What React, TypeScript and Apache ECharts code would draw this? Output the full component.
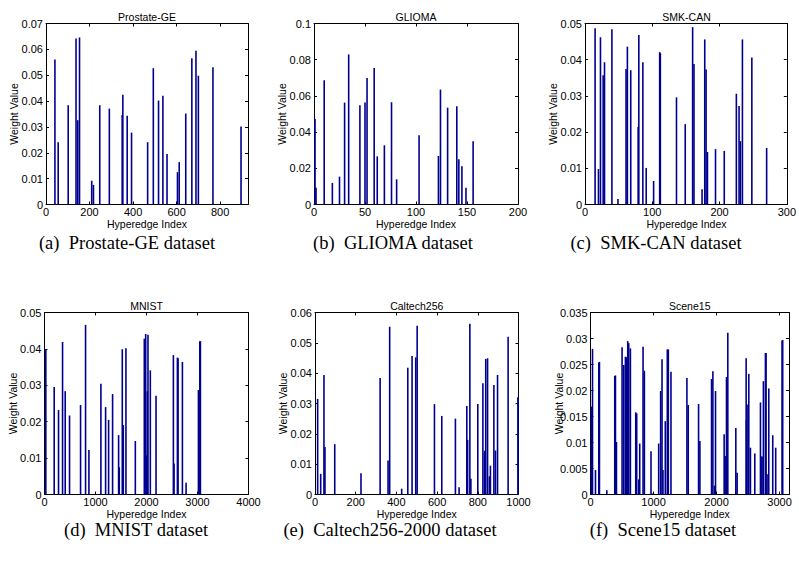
import React, { useEffect, useRef } from "react";
import * as echarts from "echarts";

// ---------- data (hyperedge index, weight value) ----------
const prostateIdx = [41, 56, 102, 138, 146, 154, 210, 218, 247, 291, 350, 353, 373, 393, 467, 493, 517, 537, 556, 604, 612, 642, 670, 689, 700, 767, 896];
const prostateW = [0.0561, 0.0241, 0.0384, 0.0642, 0.0326, 0.0646, 0.0092, 0.0076, 0.0384, 0.0371, 0.0346, 0.0424, 0.0343, 0.0278, 0.0241, 0.0527, 0.0402, 0.0421, 0.0195, 0.0125, 0.0164, 0.0352, 0.0566, 0.0595, 0.0498, 0.0531, 0.0302];

const gliomaIdx = [1, 2, 10, 18, 25, 30, 34, 45, 50, 52, 59, 62, 69, 76, 81, 103, 122, 124, 131, 140, 142, 145, 149, 156];
const gliomaW = [0.0472, 0.0092, 0.0686, 0.0119, 0.0154, 0.0563, 0.0829, 0.0549, 0.0563, 0.0699, 0.0754, 0.0266, 0.0327, 0.0565, 0.0139, 0.0382, 0.0268, 0.0635, 0.0535, 0.0543, 0.025, 0.0211, 0.0092, 0.035];

const smkIdx = [15, 20, 23, 27, 29, 40, 49, 61, 63, 68, 79, 80, 86, 91, 102, 111, 112, 136, 149, 160, 162, 174, 178, 180, 182, 194, 207, 225, 229, 231, 234, 248, 270];
const smkW = [0.0487, 0.0098, 0.0462, 0.0357, 0.0393, 0.0484, 0.0015, 0.0374, 0.0436, 0.0371, 0.0214, 0.0468, 0.0393, 0.0101, 0.0065, 0.0421, 0.0418, 0.0296, 0.0222, 0.049, 0.0388, 0.0042, 0.0456, 0.0373, 0.0145, 0.0153, 0.0148, 0.0306, 0.0272, 0.0175, 0.0456, 0.0406, 0.0156];

const mnistIdx = [26, 190, 275, 354, 406, 491, 707, 805, 871, 1106, 1198, 1257, 1335, 1453, 1466, 1525, 1545, 1597, 1781, 1957, 1984, 2003, 2016, 2029, 2075, 2187, 2527, 2540, 2606, 2619, 2704, 2776, 3018, 3045, 3057];
const mnistW = [0.04, 0.0295, 0.0232, 0.0419, 0.0284, 0.0217, 0.0246, 0.0466, 0.0122, 0.0304, 0.024, 0.0205, 0.0276, 0.0163, 0.0075, 0.0399, 0.0191, 0.0402, 0.0147, 0.0428, 0.0441, 0.0108, 0.0284, 0.0439, 0.0341, 0.0271, 0.0383, 0.0085, 0.0376, 0.0374, 0.0364, 0.0032, 0.0287, 0.0421, 0.0421];

const caltechIdx = [13, 28, 44, 49, 97, 226, 320, 359, 367, 426, 456, 477, 495, 502, 587, 623, 690, 708, 746, 750, 761, 766, 800, 825, 833, 839, 848, 857, 862, 879, 887, 897, 949, 997];
const caltechW = [0.0315, 0.0068, 0.0394, 0.0157, 0.0166, 0.007, 0.0384, 0.0112, 0.0553, 0.0019, 0.0418, 0.0457, 0.0452, 0.0556, 0.0298, 0.0259, 0.025, 0.0024, 0.0292, 0.018, 0.0563, 0.0052, 0.0298, 0.0367, 0.0144, 0.0447, 0.0449, 0.006, 0.0095, 0.0361, 0.0145, 0.0394, 0.052, 0.0321];

const sceneIdx = [16, 32, 79, 132, 142, 259, 385, 396, 412, 501, 528, 554, 570, 591, 607, 633, 718, 733, 765, 781, 834, 855, 960, 982, 1082, 1113, 1135, 1150, 1187, 1219, 1235, 1277, 1530, 1551, 1715, 1736, 1921, 1942, 1968, 1984, 2121, 2137, 2158, 2179, 2306, 2327, 2470, 2475, 2485, 2512, 2538, 2607, 2697, 2707, 2723, 2744, 2776, 2786, 2802, 2829, 2892, 2939, 3040, 3050];
const sceneW = [0.0169, 0.028, 0.0047, 0.0254, 0.0255, 0.0008, 0.0228, 0.0229, 0.0101, 0.0283, 0.0249, 0.0265, 0.0264, 0.0295, 0.0291, 0.0281, 0.0158, 0.0156, 0.0029, 0.0098, 0.0284, 0.0238, 0.0083, 0.0002, 0.0098, 0.0199, 0.026, 0.0047, 0.0141, 0.0279, 0.0279, 0.0236, 0.0224, 0.0172, 0.0174, 0.0103, 0.0222, 0.0237, 0.0017, 0.0199, 0.0116, 0.0074, 0.0226, 0.0311, 0.0128, 0.0042, 0.0262, 0.0143, 0.0173, 0.0232, 0.009, 0.0079, 0.0177, 0.0073, 0.0073, 0.0218, 0.0272, 0.0272, 0.0039, 0.0204, 0.0114, 0.009, 0.0296, 0.0297];

const titles = ["Prostate-GE", "GLIOMA", "SMK-CAN", "MNIST", "Caltech256", "Scene15"];
const captions = ["(a)  Prostate-GE dataset", "(b)  GLIOMA dataset", "(c)  SMK-CAN dataset", "(d)  MNIST dataset", "(e)  Caltech256-2000 dataset", "(f)  Scene15 dataset"];
const xMaxes = [928, 200, 300, 4000, 1000, 3150];
const xIntervals = [200, 50, 100, 1000, 200, 1000];
const yMaxes = [0.07, 0.1, 0.05, 0.05, 0.06, 0.035];
const yIntervals = [0.01, 0.02, 0.01, 0.01, 0.01, 0.005];
const X_NAME = "Hyperedge Index";
const Y_NAME = "Weight Value";

const idxLists = [prostateIdx, gliomaIdx, smkIdx, mnistIdx, caltechIdx, sceneIdx];
const wLists = [prostateW, gliomaW, smkW, mnistW, caltechW, sceneW];

// ---------- layout (plot boxes in px) ----------
const boxes = [
  { l: 46, t: 23.5, r: 248, b: 204.5, capX: 127, capY: 243 },
  { l: 314, t: 23.5, r: 518, b: 204.5, capX: 393, capY: 243 },
  { l: 585, t: 23.5, r: 788, b: 204.5, capX: 656, capY: 243 },
  { l: 44.5, t: 312.5, r: 248.5, b: 494.5, capX: 136, capY: 530 },
  { l: 315, t: 312.5, r: 518.5, b: 494.5, capX: 390, capY: 530 },
  { l: 590.5, t: 312.5, r: 789, b: 494.5, capX: 663, capY: 530 },
];

const BAR = "#00008F";
const SANS = '"Liberation Sans", Arial, Helvetica, sans-serif';
const SERIF = '"Liberation Serif", "Times New Roman", serif';

function fmtY(v: number) {
  return String(parseFloat(Number(v).toFixed(4)));
}
function fmtX(v: number) {
  return String(Math.round(Number(v)));
}

function buildOption() {
  const grid: any[] = [];
  const xAxis: any[] = [];
  const yAxis: any[] = [];
  const series: any[] = [];
  const graphic: any[] = [];

  boxes.forEach((bx, i) => {
    grid.push({ left: bx.l, top: bx.t, width: bx.r - bx.l, height: bx.b - bx.t, containLabel: false });
    const lineStyle = { color: "#000", width: 1 };
    const tick = { show: true, inside: true, length: 3, lineStyle: { color: "#000", width: 1 } };
    const xBase = { type: "value", gridIndex: i, min: 0, max: xMaxes[i], interval: xIntervals[i], splitLine: { show: false }, axisLine: { show: true, onZero: false, lineStyle }, axisTick: tick };
    xAxis.push({
      ...xBase,
      position: "bottom",
      axisLabel: { show: true, color: "#000", fontFamily: SANS, fontSize: 11, margin: 2, formatter: fmtX, showMaxLabel: xMaxes[i] % xIntervals[i] === 0, showMinLabel: true },
    });
    xAxis.push({ ...xBase, position: "top", axisLabel: { show: false } });
    const yBase = { type: "value", gridIndex: i, min: 0, max: yMaxes[i], interval: yIntervals[i], splitLine: { show: false }, axisLine: { show: true, onZero: false, lineStyle }, axisTick: tick };
    yAxis.push({
      ...yBase,
      position: "left",
      axisLabel: { show: true, color: "#000", fontFamily: SANS, fontSize: 11, margin: 3, formatter: fmtY },
    });
    yAxis.push({ ...yBase, position: "right", axisLabel: { show: false } });

    series.push({
      type: "bar",
      xAxisIndex: i * 2,
      yAxisIndex: i * 2,
      barWidth: 1.6,
      itemStyle: { color: BAR },
      data: idxLists[i].map((x, k) => [x, wLists[i][k]]),
    });

    const cx = (bx.l + bx.r) / 2;
    const cy = (bx.t + bx.b) / 2;
    graphic.push({
      type: "text",
      x: cx,
      y: bx.t - 7,
      style: { text: titles[i], fill: "#000", fontFamily: SANS, fontSize: 10.5, align: "center", verticalAlign: "middle", textAlign: "center", textVerticalAlign: "middle" },
    });
    graphic.push({
      type: "text",
      x: bx.l - 32,
      y: cy,
      rotation: Math.PI / 2,
      style: { text: Y_NAME, fill: "#000", fontFamily: SANS, fontSize: 10.5, align: "center", verticalAlign: "middle", textAlign: "center", textVerticalAlign: "middle" },
    });
    graphic.push({
      type: "text",
      x: cx,
      y: bx.b + 19,
      style: { text: X_NAME, fill: "#000", fontFamily: SANS, fontSize: 10.5, align: "center", verticalAlign: "middle", textAlign: "center", textVerticalAlign: "middle" },
    });
    graphic.push({
      type: "text",
      x: bx.capX,
      y: bx.capY,
      style: { text: captions[i], fill: "#000", fontFamily: SERIF, fontSize: 18.5, align: "center", verticalAlign: "middle", textAlign: "center", textVerticalAlign: "middle" },
    });
  });

  return {
    animation: false,
    backgroundColor: "#fff",
    grid,
    xAxis,
    yAxis,
    series,
    graphic,
  };
}

export default function App() {
  const ref = useRef<HTMLDivElement>(null);
  useEffect(() => {
    if (!ref.current) return;
    const chart = echarts.init(ref.current, null, { renderer: "svg" });
    chart.setOption(buildOption() as any);
    return () => chart.dispose();
  }, []);
  return (
    <div
      ref={ref}
      style={{ position: "fixed", left: 0, top: 0, width: 799, height: 568, background: "#fff" }}
    />
  );
}
